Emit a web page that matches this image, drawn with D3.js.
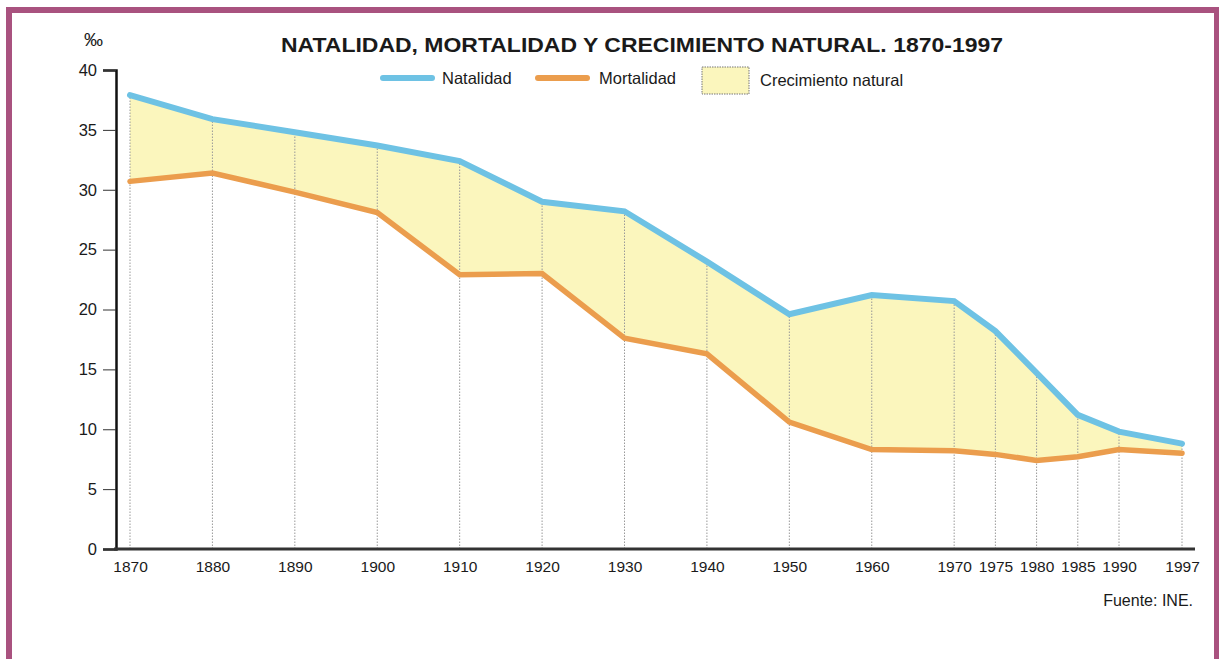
<!DOCTYPE html>
<html>
<head>
<meta charset="utf-8">
<script src="https://cdn.jsdelivr.net/npm/d3@7"></script>
<style>
  body { margin: 0; background: #fff; }
  svg text { font-family: "Liberation Sans", Arial, sans-serif; fill: #1a1a1a; }
</style>
</head>
<body>
<div class="chart"></div>
<script>
let years = [1870, 1880, 1890, 1900, 1910, 1920, 1930, 1940, 1950, 1960, 1970, 1975, 1980, 1985, 1990, 1997];
let natalidad = [37.9, 35.9, 34.8, 33.7, 32.4, 29.0, 28.2, 24.0, 19.6, 21.2, 20.7, 18.2, 14.7, 11.2, 9.8, 8.8];
let mortalidad = [30.7, 31.4, 29.8, 28.1, 22.9, 23.0, 17.6, 16.3, 10.6, 8.3, 8.2, 7.9, 7.4, 7.7, 8.3, 8.0];
let yTicks = [0, 5, 10, 15, 20, 25, 30, 35, 40];

let svgWidth = 1219;
let svgHeight = 659;

let data = years.map((y, i) => ({ year: y, nat: natalidad[i], mort: mortalidad[i] }));

let svg = d3.select(".chart")
  .append("svg")
  .attr("width", svgWidth)
  .attr("height", svgHeight);

// purple frame (no bottom edge visible)
svg.append("path")
  .attr("d", "M9,659 V10 H1217 V659")
  .attr("fill", "none")
  .attr("stroke", "#a9527f")
  .attr("stroke-width", 6);

let x = d3.scaleLinear()
  .domain([1870, 1990, 1997])
  .range([130, 1119, 1182]);

let y = d3.scaleLinear()
  .domain([0, 40])
  .range([549, 70]);

// yellow band between the two series
let area = d3.area()
  .x(d => x(d.year))
  .y0(d => y(d.mort))
  .y1(d => y(d.nat));

svg.append("path")
  .datum(data)
  .attr("d", area)
  .attr("fill", "#fbf6bd");

// dotted drop lines
svg.append("g")
  .selectAll("line")
  .data(data)
  .enter()
  .append("line")
  .attr("x1", d => x(d.year))
  .attr("x2", d => x(d.year))
  .attr("y1", y(0))
  .attr("y2", d => y(d.nat))
  .attr("stroke", "#999")
  .attr("stroke-width", 1)
  .attr("stroke-dasharray", "1.5,1.5");

// axes
let leftAxis = d3.axisLeft(y).tickValues(yTicks).tickSize(13).tickPadding(6);
let yAxis = svg.append("g")
  .attr("transform", "translate(116,0)")
  .call(leftAxis);
yAxis.select(".domain").attr("stroke", "#111").attr("stroke-width", 2.5);
yAxis.selectAll(".tick line").attr("stroke", "#333").attr("stroke-width", 1);
yAxis.selectAll(".tick text")
  .attr("font-size", 16.5)
  .style("font-family", "Liberation Sans, Arial, sans-serif")
  .attr("fill", "#1a1a1a");

let bottomAxis = d3.axisBottom(x).tickValues(years).tickFormat(d3.format("d")).tickSize(0).tickPadding(12);
let xAxis = svg.append("g")
  .attr("transform", `translate(0,${y(0)})`)
  .call(bottomAxis);
xAxis.select(".domain").remove();
xAxis.selectAll(".tick text")
  .attr("font-size", 15.5)
  .style("font-family", "Liberation Sans, Arial, sans-serif")
  .attr("fill", "#1a1a1a");

svg.append("line")
  .attr("x1", 114).attr("x2", 1195)
  .attr("y1", y(0)).attr("y2", y(0))
  .attr("stroke", "#333")
  .attr("stroke-width", 3);

// series lines
let natLine = d3.line().x(d => x(d.year)).y(d => y(d.nat));
let mortLine = d3.line().x(d => x(d.year)).y(d => y(d.mort));

svg.append("path")
  .datum(data)
  .attr("d", mortLine)
  .attr("fill", "none")
  .attr("stroke", "#eb9d4d")
  .attr("stroke-width", 5.5)
  .attr("stroke-linecap", "round");

svg.append("path")
  .datum(data)
  .attr("d", natLine)
  .attr("fill", "none")
  .attr("stroke", "#6ec2e4")
  .attr("stroke-width", 6)
  .attr("stroke-linecap", "round");

// title and unit
svg.append("text")
  .attr("x", 281)
  .attr("y", 52)
  .attr("font-size", 21)
  .attr("font-weight", "bold")
  .attr("textLength", 722)
  .attr("lengthAdjust", "spacingAndGlyphs")
  .text("NATALIDAD, MORTALIDAD Y CRECIMIENTO NATURAL. 1870-1997");

svg.append("text")
  .attr("x", 84)
  .attr("y", 46)
  .attr("font-size", 19)
  .text("‰");

// legend
let legend = svg.append("g");
legend.append("line")
  .attr("x1", 383).attr("x2", 432).attr("y1", 78).attr("y2", 78)
  .attr("stroke", "#6ec2e4").attr("stroke-width", 6).attr("stroke-linecap", "round");
legend.append("text").attr("x", 442).attr("y", 84).attr("font-size", 16.5).text("Natalidad");

legend.append("line")
  .attr("x1", 538).attr("x2", 587).attr("y1", 78).attr("y2", 78)
  .attr("stroke", "#eb9d4d").attr("stroke-width", 6).attr("stroke-linecap", "round");
legend.append("text").attr("x", 599).attr("y", 84).attr("font-size", 16.5).text("Mortalidad");

legend.append("rect")
  .attr("x", 702).attr("y", 67).attr("width", 47).attr("height", 27)
  .attr("fill", "#fbf6bd").attr("stroke", "#777").attr("stroke-width", 1)
  .attr("stroke-dasharray", "1.5,1");
legend.append("text").attr("x", 760).attr("y", 86).attr("font-size", 16.5).text("Crecimiento natural");

// source
svg.append("text")
  .attr("x", 1193)
  .attr("y", 606)
  .attr("text-anchor", "end")
  .attr("font-size", 16)
  .text("Fuente: INE.");
</script>
</body>
</html>
